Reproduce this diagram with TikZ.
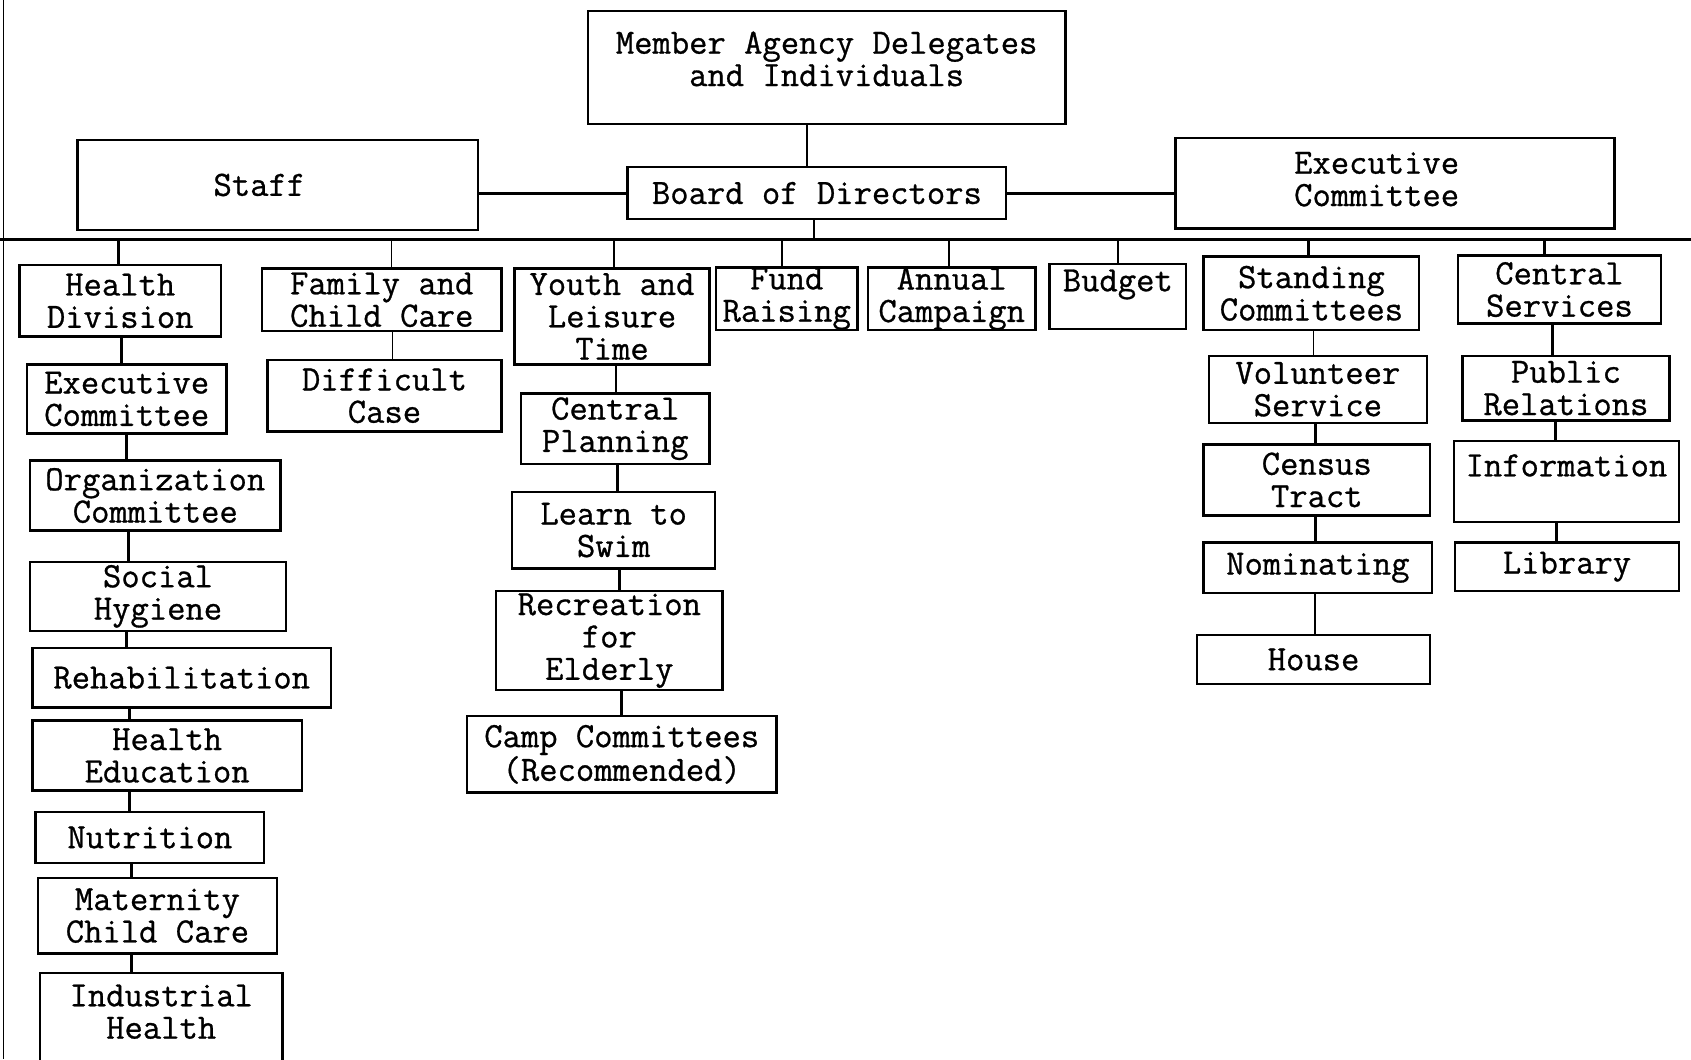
\documentclass[tikz,border=0pt]{standalone}
\usepackage{fontspec}
\newfontfamily\twfont[FakeBold=0.8]{Latin Modern Mono}
\begin{document}
\begin{tikzpicture}[x=1pt,y=-1pt,
  box/.style={draw, line width=2.2pt, inner sep=0pt, align=center,
    font=\twfont\fontsize{33}{30}\selectfont},
  conn/.style={line width=2.8pt},
  thinconn/.style={line width=1.7pt},
  border/.style={line width=1.2pt}]
\useasboundingbox (0,0) rectangle (1568,982);
% page border and bus
\coordinate (bt) at (3,0);
\coordinate (bb) at (3,982);
\draw[border] (bt) -- (bb);
\coordinate (busL) at (0,222);
\coordinate (busR) at (1568,222);
\draw[line width=2.2pt] (busL) -- (busR);

% top level
\node[box, minimum width=443pt, minimum height=105pt] (mem) at (766.5,62.5) {Member Agency Delegates\\and Individuals\\[-14pt]\mbox{}};
\node[box, minimum width=371pt, minimum height=83pt] (staff) at (257.5,171.5) {Staff\hspace{34pt}\mbox{}};
\node[box, minimum width=351pt, minimum height=48pt] (bod) at (757.5,179) {Board of Directors};
\node[box, minimum width=407pt, minimum height=84pt] (exc) at (1293.5,170) {Executive\hspace{34pt}\mbox{}\\Committee\hspace{34pt}\mbox{}\\[-22pt]\mbox{}};

\draw[thinconn] (748,0 |- mem.south) -- (748,0 |- bod.north);
\draw[conn] (bod.west -| staff.east) -- (bod.west);
\draw[conn] (bod.east) -- (bod.east -| exc.west);
\draw[thinconn] (755,0 |- bod.south) -- (755,0 |- busL);

% first row
\node[box, minimum width=187pt, minimum height=66pt] (hd) at (111.5,279) {Health\\Division};
\node[box, minimum width=222pt, minimum height=58pt] (fcc) at (354,278) {Family and\\Child Care};
\node[box, minimum width=181pt, minimum height=89pt] (ylt) at (567.5,293.5) {Youth and\\Leisure\\Time};
\node[box, minimum width=131pt, minimum height=58pt] (fr) at (729.5,277) {Fund\\Raising};
\node[box, minimum width=155pt, minimum height=58pt] (ac) at (882.5,277) {Annual\\Campaign};
\node[box, minimum width=127pt, minimum height=60pt] (bud) at (1036.5,275) {Budget\\\mbox{}};
\node[box, minimum width=200pt, minimum height=68pt] (sc) at (1216,272) {Standing\\Committees};
\node[box, minimum width=188pt, minimum height=63pt] (cs) at (1446,268.5) {Central\\Services};

\draw[conn] (110,0 |- busL) -- (110,0 |- hd.north);
\draw[thinconn] (363,0 |- busL) -- (363,0 |- fcc.north);
\draw[thinconn] (569,0 |- busL) -- (569,0 |- ylt.north);
\draw[thinconn] (725,0 |- busL) -- (725,0 |- fr.north);
\draw[thinconn] (880,0 |- busL) -- (880,0 |- ac.north);
\draw[thinconn] (1037,0 |- busL) -- (1037,0 |- bud.north);
\draw[conn] (1213,0 |- busL) -- (1213,0 |- sc.north);
\draw[conn] (1432,0 |- busL) -- (1432,0 |- cs.north);

% health column
\node[box, minimum width=185pt, minimum height=64pt] (ec) at (117.5,370) {Executive\\Committee};
\node[box, minimum width=232pt, minimum height=65pt] (oc) at (144,459.5) {Organization\\Committee};
\node[box, minimum width=237pt, minimum height=64pt] (sh) at (146.5,553) {Social\\Hygiene};
\node[box, minimum width=277pt, minimum height=55pt] (rh) at (168.5,628.5) {Rehabilitation};
\node[box, minimum width=250pt, minimum height=65pt] (he) at (155,700.5) {Health\\Education};
\node[box, minimum width=212pt, minimum height=47pt] (nu) at (139,776.5) {Nutrition};
\node[box, minimum width=222pt, minimum height=70pt] (mc) at (146,849) {Maternity\\Child Care};
\node[box, minimum width=225pt, minimum height=90pt] (ih) at (149.5,947) {Industrial\\Health\\[-12pt]\mbox{}};

\draw[conn] (113,0 |- hd.south) -- (113,0 |- ec.north);
\draw[conn] (117,0 |- ec.south) -- (117,0 |- oc.north);
\draw[conn] (119,0 |- oc.south) -- (119,0 |- sh.north);
\draw[conn] (117,0 |- sh.south) -- (117,0 |- rh.north);
\draw[conn] (120,0 |- rh.south) -- (120,0 |- he.north);
\draw[conn] (120,0 |- he.south) -- (120,0 |- nu.north);
\draw[conn] (122,0 |- nu.south) -- (122,0 |- mc.north);
\draw[conn] (122,0 |- mc.south) -- (122,0 |- ih.north);

% family column
\node[box, minimum width=217pt, minimum height=66pt] (dc) at (356.5,367) {Difficult\\Case};
\draw[thinconn] (364,0 |- fcc.south) -- (364,0 |- dc.north);

% youth column
\node[box, minimum width=175pt, minimum height=65pt] (cp) at (570.5,397.5) {Central\\Planning};
\node[box, minimum width=188pt, minimum height=71pt] (ls) at (569,491.5) {Learn to\\Swim};
\node[box, minimum width=210pt, minimum height=92pt] (re) at (565,594) {Recreation\\for\\Elderly};
\node[box, minimum width=287pt, minimum height=71pt] (cc) at (576.5,699.5) {Camp Committees\\(Recommended)};

\draw[thinconn] (571,0 |- ylt.south) -- (571,0 |- cp.north);
\draw[conn] (573,0 |- cp.south) -- (573,0 |- ls.north);
\draw[conn] (574,0 |- ls.south) -- (574,0 |- re.north);
\draw[conn] (576,0 |- re.south) -- (576,0 |- cc.north);

% standing committees column
\node[box, minimum width=202pt, minimum height=62pt] (vs) at (1222,361) {Volunteer\\Service};
\node[box, minimum width=210pt, minimum height=66pt] (ct) at (1221,445) {Census\\Tract};
\node[box, minimum width=212pt, minimum height=47pt] (no) at (1222,526.5) {Nominating};
\node[box, minimum width=216pt, minimum height=45pt] (ho) at (1218,611.5) {House};

\draw[thinconn] (1218,0 |- sc.south) -- (1218,0 |- vs.north);
\draw[conn] (1220,0 |- vs.south) -- (1220,0 |- ct.north);
\draw[conn] (1220,0 |- ct.south) -- (1220,0 |- no.north);
\draw[thinconn] (1219,0 |- no.south) -- (1219,0 |- ho.north);

% central services column
\node[box, minimum width=192pt, minimum height=60pt] (pr) at (1452,360) {Public\\Relations};
\node[box, minimum width=209pt, minimum height=75pt] (inf) at (1452.5,446.5) {Information\\\mbox{}};
\node[box, minimum width=208pt, minimum height=45pt] (li) at (1453,525.5) {Library};

\draw[conn] (1440,0 |- cs.south) -- (1440,0 |- pr.north);
\draw[conn] (1442,0 |- pr.south) -- (1442,0 |- inf.north);
\draw[conn] (1443,0 |- inf.south) -- (1443,0 |- li.north);
\end{tikzpicture}
\end{document}
